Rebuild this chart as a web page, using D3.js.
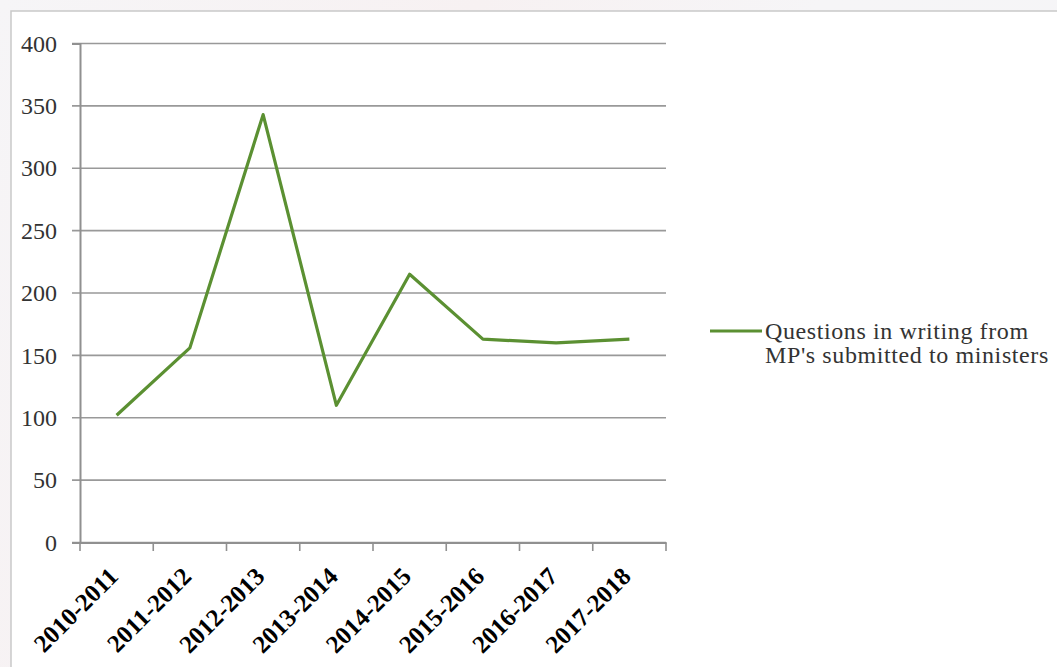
<!DOCTYPE html>
<html>
<head>
<meta charset="utf-8">
<script src="https://cdn.jsdelivr.net/npm/d3@7"></script>
<style>
  html, body { margin: 0; padding: 0; }
  body { width: 1057px; height: 667px; overflow: hidden;
         background: linear-gradient(115deg, #f6f5f7 0%, #f7f1f2 35%, #f6f5f7 60%, #f5f5f7 100%); }
  svg { display: block; }
</style>
</head>
<body>
<svg id="chart" width="1057" height="667"></svg>
<script>
// chart values
var years = ['2010-2011', '2011-2012', '2012-2013', '2013-2014',
             '2014-2015', '2015-2016', '2016-2017', '2017-2018'];
var questions = [102, 156, 343, 110, 215, 163, 160, 163];
var yTicks = [0, 50, 100, 150, 200, 250, 300, 350, 400];
var legendLines = ['Questions in writing from', "MP's submitted to ministers"];

var svg = d3.select('#chart');

// white card
svg.append('rect')
  .attr('x', 11).attr('y', 11)
  .attr('width', 1060).attr('height', 670)
  .attr('fill', '#fff')
  .attr('stroke', '#c9c9c9')
  .attr('stroke-width', 1.5);

var x = d3.scaleBand().domain(years).range([80, 666]);
var y = d3.scaleLinear().domain([0, 400]).range([542.5, 43.5]);

// gridlines
svg.append('g')
  .selectAll('line')
  .data(yTicks)
  .join('line')
  .attr('x1', 72).attr('x2', 666)
  .attr('y1', function (d) { return y(d); })
  .attr('y2', function (d) { return y(d); })
  .attr('stroke', '#999')
  .attr('stroke-width', 1.6);

// y axis
var yAxis = svg.append('g')
  .attr('transform', 'translate(80,0)')
  .call(d3.axisLeft(y).tickValues(yTicks).tickSize(8).tickPadding(15));
yAxis.select('.domain').attr('stroke', '#909090').attr('stroke-width', 2);
yAxis.selectAll('.tick line').remove();
yAxis.selectAll('text')
  .attr('font-family', '"Liberation Serif", serif')
  .attr('font-size', 24)
  .attr('fill', '#333');

// x axis
var xAxis = svg.append('g')
  .attr('transform', 'translate(0,542.5)')
  .call(d3.axisBottom(x).tickSizeOuter(0).tickSize(0).tickFormat(''));
xAxis.select('.domain').attr('stroke', '#909090').attr('stroke-width', 2);

// category boundary ticks
var bounds = years.map(function (d) { return x(d); }).concat([x.range()[1]]);
svg.append('g')
  .selectAll('line')
  .data(bounds)
  .join('line')
  .attr('x1', function (d) { return d; })
  .attr('x2', function (d) { return d; })
  .attr('y1', 542.5).attr('y2', 551)
  .attr('stroke', '#909090')
  .attr('stroke-width', 1.6);

// x labels
svg.append('g')
  .selectAll('text')
  .data(years)
  .join('text')
  .attr('transform', function (d) {
    return 'translate(' + (x(d) + x.bandwidth() / 2 + 3) + ',' + 578 + ') rotate(-45)';
  })
  .attr('text-anchor', 'end')
  .attr('font-family', '"Liberation Serif", serif')
  .attr('font-weight', 'bold')
  .attr('font-size', 25)
  .attr('fill', '#000')
  .text(function (d) { return d; });

// line
var line = d3.line()
  .x(function (d, i) { return x(years[i]) + x.bandwidth() / 2; })
  .y(function (d) { return y(d); });

svg.append('path')
  .datum(questions)
  .attr('d', line)
  .attr('fill', 'none')
  .attr('stroke', '#5b9032')
  .attr('stroke-width', 3.2)
  .attr('stroke-linejoin', 'round');

// legend
var legend = svg.append('g').attr('transform', 'translate(710,331)');
legend.append('line')
  .attr('x1', 0).attr('x2', 52)
  .attr('y1', 0).attr('y2', 0)
  .attr('stroke', '#5b9032')
  .attr('stroke-width', 3.2);
legend.append('g')
  .selectAll('text')
  .data(legendLines)
  .join('text')
  .attr('x', 55)
  .attr('y', function (d, i) { return 8 + i * 24; })
  .attr('font-family', '"Liberation Serif", serif')
  .attr('font-size', 24)
  .attr('letter-spacing', 0.6)
  .attr('fill', '#333')
  .text(function (d) { return d; });
</script>
</body>
</html>
